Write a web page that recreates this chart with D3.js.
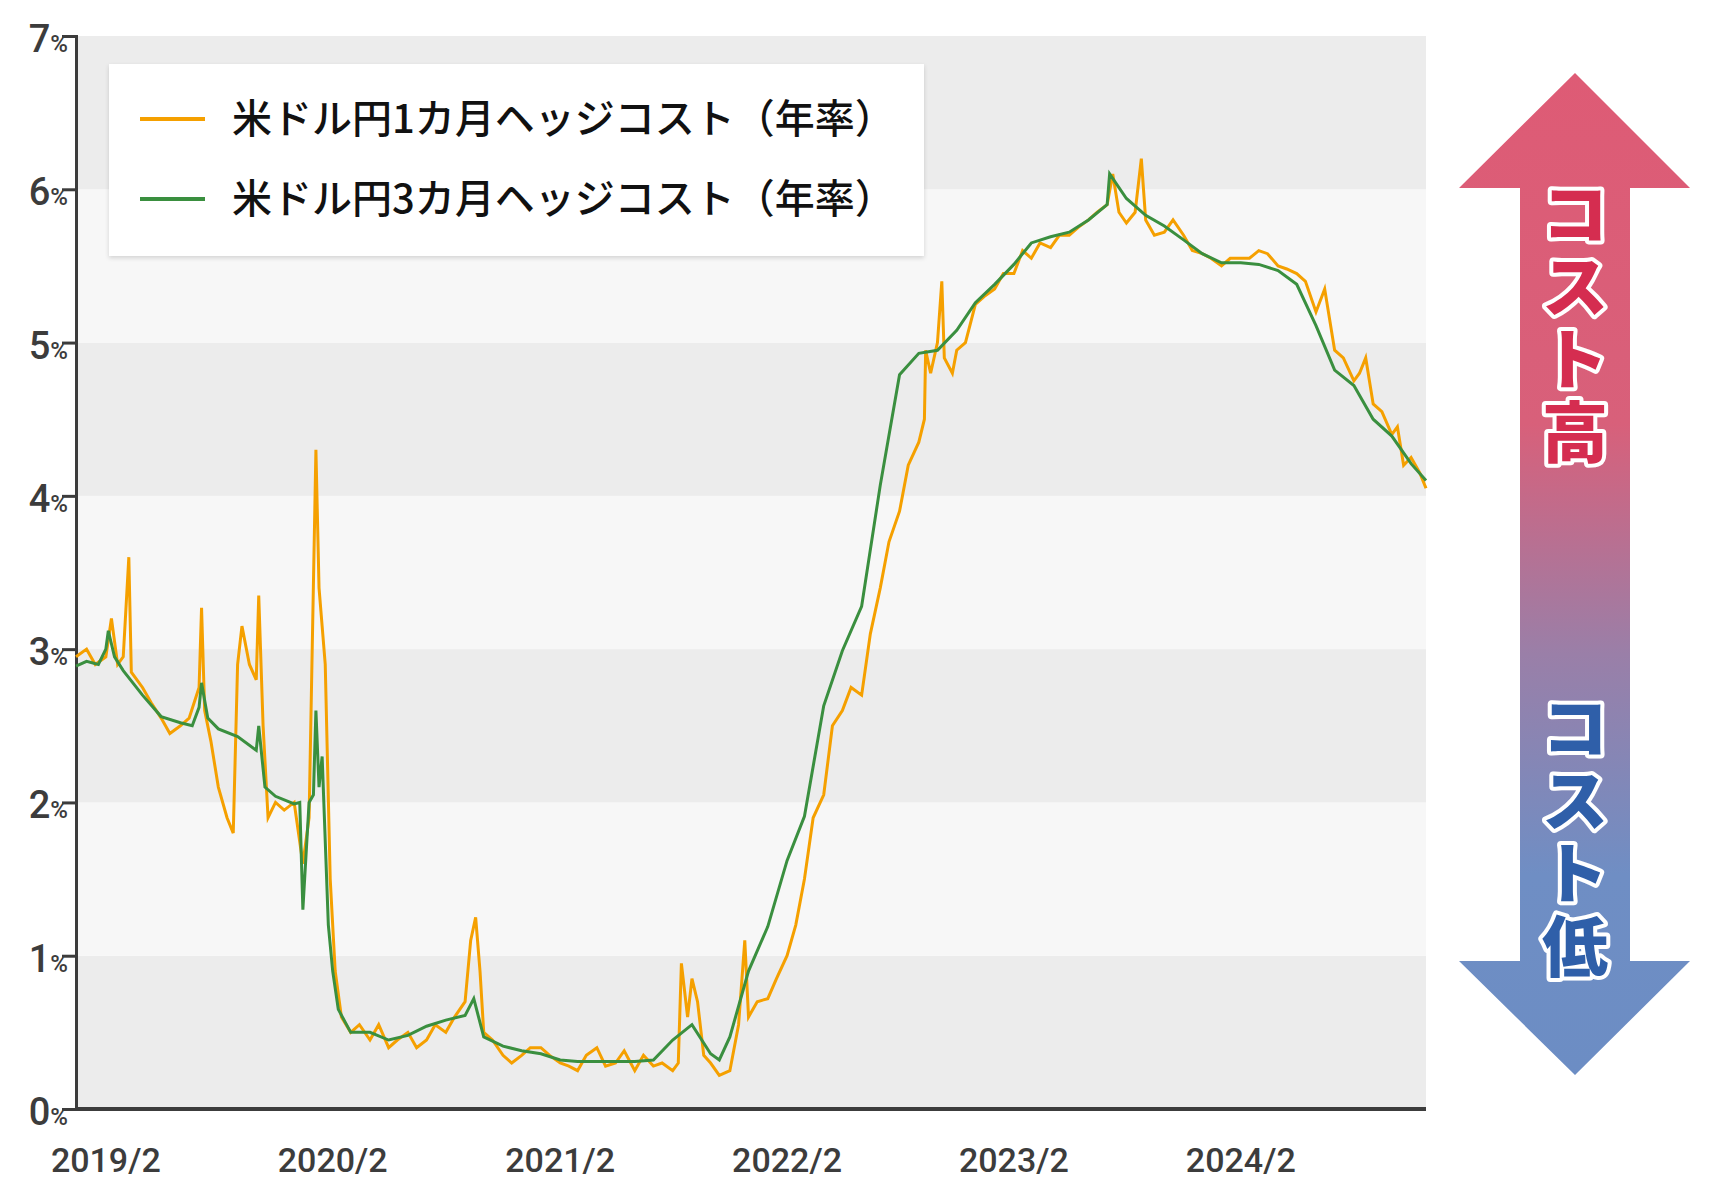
<!DOCTYPE html>
<html><head><meta charset="utf-8">
<script src="https://cdn.jsdelivr.net/npm/d3@7"></script>
<style>body{margin:0;background:#fff}svg{display:block}</style>
</head><body><svg id="c" width="1728" height="1196"></svg>
<script>
const seriesNames=["米ドル円1カ月ヘッジコスト（年率）","米ドル円3カ月ヘッジコスト（年率）"];
const yTicks=[0,1,2,3,4,5,6,7];
const xTickLabels=["2019/2","2020/2","2021/2","2022/2","2023/2","2024/2"];
const xTickDates=["2019-02-01","2020-02-01","2021-02-01","2022-02-01","2023-02-01","2024-02-01"];
const dates1=["2018-12-15","2019-01-01","2019-01-15","2019-02-01","2019-02-10","2019-02-20","2019-03-01","2019-03-10","2019-03-14","2019-04-01","2019-04-15","2019-05-01","2019-05-15","2019-06-01","2019-06-15","2019-07-01","2019-07-05","2019-07-10","2019-07-20","2019-08-01","2019-08-15","2019-08-25","2019-09-01","2019-09-08","2019-09-20","2019-10-01","2019-10-05","2019-10-12","2019-10-20","2019-11-01","2019-11-15","2019-12-01","2019-12-15","2019-12-25","2020-01-05","2020-01-10","2020-01-20","2020-01-28","2020-02-05","2020-02-15","2020-03-01","2020-03-15","2020-04-01","2020-04-15","2020-05-01","2020-05-15","2020-06-01","2020-06-15","2020-07-01","2020-07-15","2020-08-01","2020-08-15","2020-09-01","2020-09-10","2020-09-18","2020-09-25","2020-10-01","2020-10-15","2020-11-01","2020-11-15","2020-12-01","2020-12-15","2021-01-01","2021-01-15","2021-02-01","2021-02-15","2021-03-01","2021-03-15","2021-04-01","2021-04-15","2021-05-01","2021-05-15","2021-06-01","2021-06-15","2021-07-01","2021-07-15","2021-08-01","2021-08-10","2021-08-15","2021-08-25","2021-09-01","2021-09-10","2021-09-20","2021-10-01","2021-10-15","2021-11-01","2021-11-15","2021-11-25","2021-12-01","2021-12-15","2022-01-01","2022-01-15","2022-02-01","2022-02-15","2022-03-01","2022-03-15","2022-04-01","2022-04-15","2022-05-01","2022-05-15","2022-06-01","2022-06-15","2022-07-01","2022-07-15","2022-08-01","2022-08-15","2022-09-01","2022-09-10","2022-09-12","2022-09-20","2022-10-01","2022-10-08","2022-10-12","2022-10-25","2022-11-01","2022-11-15","2022-12-01","2022-12-15","2023-01-01","2023-01-15","2023-02-01","2023-02-15","2023-03-01","2023-03-15","2023-04-01","2023-04-15","2023-05-01","2023-05-15","2023-06-01","2023-06-15","2023-07-01","2023-07-10","2023-07-20","2023-08-01","2023-08-15","2023-08-25","2023-09-01","2023-09-15","2023-10-01","2023-10-15","2023-11-01","2023-11-15","2023-12-01","2023-12-15","2024-01-01","2024-01-15","2024-02-01","2024-02-15","2024-03-01","2024-03-15","2024-04-01","2024-04-15","2024-05-01","2024-05-15","2024-06-01","2024-06-15","2024-07-01","2024-07-15","2024-08-01","2024-08-10","2024-08-20","2024-09-01","2024-09-15","2024-10-01","2024-10-10","2024-10-20","2024-11-01","2024-11-15","2024-11-25"];
const vals1=[2.95,3.0,2.9,2.95,3.2,2.9,2.95,3.6,2.85,2.75,2.65,2.55,2.45,2.5,2.55,2.75,3.27,2.6,2.4,2.1,1.9,1.8,2.9,3.15,2.9,2.8,3.35,2.5,1.9,2.0,1.95,2.0,1.6,1.9,4.3,3.4,2.9,1.5,0.9,0.6,0.5,0.55,0.45,0.55,0.4,0.45,0.5,0.4,0.45,0.55,0.5,0.6,0.7,1.1,1.25,0.9,0.5,0.45,0.35,0.3,0.35,0.4,0.4,0.35,0.3,0.28,0.25,0.35,0.4,0.28,0.3,0.38,0.25,0.35,0.28,0.3,0.25,0.3,0.95,0.6,0.85,0.7,0.35,0.3,0.22,0.25,0.55,1.1,0.6,0.7,0.72,0.85,1.0,1.2,1.5,1.9,2.05,2.5,2.6,2.75,2.7,3.1,3.4,3.7,3.9,4.2,4.35,4.5,4.95,4.8,5.0,5.4,4.9,4.8,4.95,5.0,5.25,5.3,5.35,5.45,5.45,5.6,5.55,5.65,5.62,5.7,5.7,5.75,5.8,5.85,5.9,6.1,5.85,5.78,5.85,6.2,5.8,5.7,5.72,5.8,5.7,5.6,5.58,5.55,5.5,5.55,5.55,5.55,5.6,5.58,5.5,5.48,5.45,5.4,5.2,5.35,4.95,4.9,4.75,4.8,4.9,4.6,4.55,4.4,4.45,4.2,4.25,4.15,4.05];
const dates3=["2018-12-15","2019-01-01","2019-01-20","2019-02-01","2019-02-05","2019-02-15","2019-03-01","2019-04-01","2019-05-01","2019-06-01","2019-06-20","2019-07-01","2019-07-05","2019-07-15","2019-08-01","2019-09-01","2019-10-01","2019-10-05","2019-10-15","2019-11-01","2019-12-01","2019-12-10","2019-12-15","2019-12-25","2020-01-01","2020-01-05","2020-01-10","2020-01-15","2020-01-25","2020-02-01","2020-02-10","2020-03-01","2020-04-01","2020-05-01","2020-06-01","2020-07-01","2020-08-01","2020-09-01","2020-09-15","2020-10-01","2020-11-01","2020-12-01","2021-01-01","2021-02-01","2021-03-01","2021-04-01","2021-05-01","2021-06-01","2021-07-01","2021-08-01","2021-09-01","2021-10-01","2021-10-15","2021-11-01","2021-12-01","2022-01-01","2022-02-01","2022-03-01","2022-04-01","2022-05-01","2022-06-01","2022-07-01","2022-08-01","2022-09-01","2022-10-01","2022-11-01","2022-12-01","2023-01-01","2023-02-01","2023-03-01","2023-04-01","2023-05-01","2023-06-01","2023-07-01","2023-07-05","2023-08-01","2023-09-01","2023-10-01","2023-11-01","2023-12-01","2024-01-01","2024-02-01","2024-03-01","2024-04-01","2024-05-01","2024-06-01","2024-07-01","2024-08-01","2024-09-01","2024-10-01","2024-11-01","2024-11-25"];
const vals3=[2.89,2.92,2.9,3.0,3.12,2.95,2.86,2.7,2.56,2.52,2.5,2.62,2.78,2.55,2.48,2.43,2.34,2.5,2.1,2.04,1.99,2.0,1.3,2.0,2.05,2.6,2.1,2.3,1.2,0.9,0.65,0.5,0.5,0.45,0.48,0.54,0.58,0.61,0.72,0.47,0.41,0.38,0.36,0.32,0.31,0.31,0.31,0.31,0.32,0.45,0.55,0.36,0.32,0.47,0.9,1.19,1.62,1.91,2.63,2.99,3.28,4.07,4.79,4.93,4.95,5.08,5.26,5.38,5.51,5.65,5.69,5.72,5.80,5.9,6.1,5.94,5.83,5.76,5.67,5.58,5.52,5.52,5.51,5.47,5.38,5.11,4.82,4.72,4.50,4.39,4.21,4.10];

const svg=d3.select("#c");
const L=76,R=1426,T=36,B=1109;
const x=d3.scaleTime().domain([new Date("2018-12-15"),new Date("2024-11-25")]).range([L,R]);
const y=d3.scaleLinear().domain([0,7]).range([B,T]);
for(let i=0;i<7;i++){
  svg.append("rect").attr("x",L).attr("width",R-L).attr("y",y(i+1)).attr("height",y(i)-y(i+1))
    .attr("fill",i%2===0?"#ececec":"#f7f7f7");
}
const ya=svg.append("g").attr("transform",`translate(${L},0)`).call(d3.axisLeft(y).tickValues(yTicks).tickSize(14).tickFormat(""));
ya.selectAll("path,line").attr("stroke","#3c3c3c").attr("stroke-width",3);
yTicks.forEach(t=>{
  const tx=svg.append("text").attr("x",L-8).attr("y",y(t)+16).attr("text-anchor","end")
    .attr("font-family","Roboto").attr("font-weight",500).attr("fill","#3c3c3c");
  tx.append("tspan").attr("font-size",38).text(t);
  tx.append("tspan").attr("font-size",24).text("%");
});
svg.append("line").attr("x1",L).attr("x2",R).attr("y1",B).attr("y2",B).attr("stroke","#3c3c3c").attr("stroke-width",4);
xTickLabels.forEach((lab,i)=>{
  svg.append("text").attr("x",x(new Date(xTickDates[i]))).attr("y",1172).attr("text-anchor","middle")
    .attr("font-family","Roboto").attr("font-size",34).attr("font-weight",500).attr("fill","#3c3c3c").text(lab);
});
const line=d3.line().x(d=>x(d[0])).y(d=>y(d[1])).curve(d3.curveLinear);
const d1=dates1.map((d,i)=>[new Date(d),vals1[i]]);
const d3s=dates3.map((d,i)=>[new Date(d),vals3[i]]);
svg.append("path").datum(d1).attr("d",line).attr("fill","none").attr("stroke","#f5a000").attr("stroke-width",3);
svg.append("path").datum(d3s).attr("d",line).attr("fill","none").attr("stroke","#3a8f3f").attr("stroke-width",3);
const defs=svg.append("defs");
const f=defs.append("filter").attr("id","sh").attr("x","-5%").attr("y","-5%").attr("width","110%").attr("height","120%");
f.append("feDropShadow").attr("dx",0).attr("dy",2).attr("stdDeviation",2).attr("flood-opacity",0.15);
svg.append("rect").attr("x",109).attr("y",64).attr("width",815).attr("height",192).attr("fill","#fff").attr("filter","url(#sh)");
const colors=["#f5a000","#3a8f3f"];
seriesNames.forEach((n,i)=>{
  const yy=119+i*80;
  svg.append("line").attr("x1",140).attr("x2",205).attr("y1",yy).attr("y2",yy).attr("stroke",colors[i]).attr("stroke-width",4);
  svg.append("text").attr("x",232).attr("y",yy+14).attr("font-family","Noto Sans CJK JP").attr("font-weight",500)
    .attr("font-size",40).attr("fill","#111").text(n);
});
const g=defs.append("linearGradient").attr("id","ag").attr("x1",0).attr("x2",0).attr("y1",0).attr("y2",1);
g.append("stop").attr("offset","0%").attr("stop-color","#de5b75");
g.append("stop").attr("offset","35%").attr("stop-color","#d8607a");
g.append("stop").attr("offset","58%").attr("stop-color","#9a7fa8");
g.append("stop").attr("offset","80%").attr("stop-color","#6f8ec4");
g.append("stop").attr("offset","100%").attr("stop-color","#6c8dc4");
const ax0=1459,ax1=1690,sx0=1520,sx1=1630,cx=1575;
svg.append("path").attr("d",`M${cx},73 L${ax1},188 L${sx1},188 L${sx1},961 L${ax1},961 L${cx},1075 L${ax0},961 L${sx0},961 L${sx0},188 L${ax0},188 Z`).attr("fill","url(#ag)");
function vtext(chars,top,col){
  chars.forEach((c,i)=>{
    svg.append("text").attr("x",cx).attr("y",top+i*73).attr("text-anchor","middle")
      .attr("font-family","Noto Sans CJK JP").attr("font-weight",900).attr("font-size",66)
      .attr("fill",col).attr("stroke","#fff").attr("stroke-width",8).attr("paint-order","stroke").attr("stroke-linejoin","round").text(c);
  });
}
vtext(["コ","ス","ト","高"],238,"#d52d50");
vtext(["コ","ス","ト","低"],752,"#2f5fa9");
</script></body></html>
